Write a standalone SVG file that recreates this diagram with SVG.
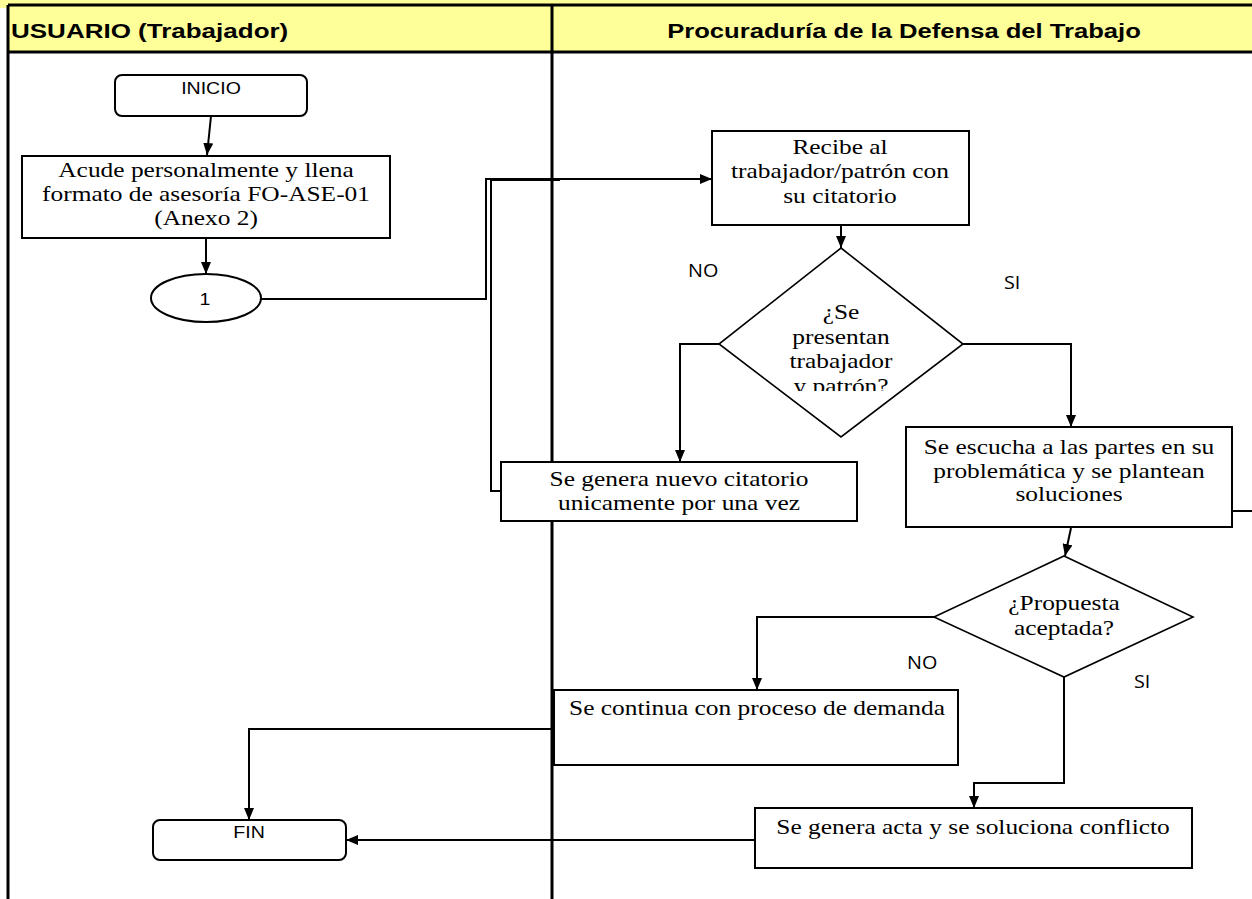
<svg xmlns="http://www.w3.org/2000/svg" width="1252" height="899" viewBox="0 0 1252 899">
<style>
.lane{stroke:#000;stroke-width:3;fill:none}
.box{fill:#fff;stroke:#000;stroke-width:2}
.dia{fill:#fff;stroke:#000;stroke-width:1.6}
.cn{fill:none;stroke:#000;stroke-width:2}
.t{font-family:"Liberation Serif","Times New Roman",serif;font-size:21px;fill:#000;text-anchor:middle}
.s{font-family:"Liberation Sans",Arial,sans-serif;font-size:17px;fill:#000;text-anchor:middle}
.h{font-family:"Liberation Sans",Arial,sans-serif;font-size:20px;font-weight:bold;fill:#000}
.l{font-family:"Open Sans","DejaVu Sans",sans-serif;font-size:18px;fill:#000}
</style>
<defs>
<marker id="ah" markerUnits="userSpaceOnUse" markerWidth="12" markerHeight="10" refX="12" refY="5" orient="auto">
<path d="M0,0 L12,5 L0,10 z" fill="#000"/>
</marker>
<clipPath id="clipd1"><rect x="700" y="290" width="290" height="101"/></clipPath>
</defs>
<rect x="0" y="0" width="1252" height="899" fill="#fff"/>
<g id="lanes">
<rect x="0" y="0" width="1252" height="8" fill="#ffff99"/>
<rect x="8" y="5" width="1244" height="47" fill="#ffff99"/>
<line class="lane" x1="8" y1="5" x2="1252" y2="5"/>
<line class="lane" x1="8" y1="52" x2="1252" y2="52"/>
<line class="lane" x1="8" y1="5" x2="8" y2="899"/>
<line class="lane" x1="552" y1="5" x2="552" y2="899"/>
<text class="h" x="0" y="38" transform="matrix(1.3 0 0 1 11 0)">USUARIO (Trabajador)</text>
<text class="h" x="0" y="38" text-anchor="middle" transform="matrix(1.28 0 0 1 904 0)">Procuraduría de la Defensa del Trabajo</text>
</g>
<g id="connectors">
<path class="cn" d="M211,116 L207,155" marker-end="url(#ah)"/>
<path class="cn" d="M206,238 V274" marker-end="url(#ah)"/>
<path class="cn" d="M261,299 H486 V179 H712" marker-end="url(#ah)"/>
<path class="cn" d="M502,491 H491 V180 H560"/>
<path class="cn" d="M841,225 V248" marker-end="url(#ah)"/>
<path class="cn" d="M720,344 H680 V462" marker-end="url(#ah)"/>
<path class="cn" d="M963,344 H1071 V427" marker-end="url(#ah)"/>
<path class="cn" d="M1232,511 H1252"/>
<path class="cn" d="M1071,528 L1065,556" marker-end="url(#ah)"/>
<path class="cn" d="M934,617 H757 V690" marker-end="url(#ah)"/>
<path class="cn" d="M1064,677 V783 H974 V808" marker-end="url(#ah)"/>
<path class="cn" d="M555,729 H249 V820" marker-end="url(#ah)"/>
<path class="cn" d="M755,840 H346" marker-end="url(#ah)"/>
<text class="l" x="0" y="277" transform="matrix(1.1 0 0 1 688 0)">NO</text>
<text class="l" x="0" y="289" transform="matrix(1.1 0 0 1 1004 0)">SI</text>
<text class="l" x="0" y="669" transform="matrix(1.1 0 0 1 907 0)">NO</text>
<text class="l" x="0" y="688" transform="matrix(1.1 0 0 1 1134 0)">SI</text>
</g>
<g id="inicio">
<rect class="box" x="115" y="75" width="192" height="41" rx="7"/>
<text class="s" x="0" y="94" transform="matrix(1.15 0 0 1 211 0)">INICIO</text>
</g>
<g id="acude">
<rect class="box" x="22" y="156" width="368" height="82"/>
<text class="t" x="0" y="177" transform="matrix(1.21 0 0 1 206 0)">Acude personalmente y llena</text>
<text class="t" x="0" y="201" transform="matrix(1.21 0 0 1 206 0)">formato de asesoría FO-ASE-01</text>
<text class="t" x="0" y="225" transform="matrix(1.21 0 0 1 206 0)">(Anexo 2)</text>
</g>
<g id="conector1">
<ellipse class="box" cx="206" cy="298" rx="55" ry="24"/>
<text class="s" x="0" y="305" font-size="18" transform="matrix(1.15 0 0 1 205 0)">1</text>
</g>
<g id="recibe">
<rect class="box" x="712" y="131" width="257" height="94"/>
<text class="t" x="0" y="154" transform="matrix(1.21 0 0 1 840 0)">Recibe al</text>
<text class="t" x="0" y="178" transform="matrix(1.21 0 0 1 840 0)">trabajador/patrón con</text>
<text class="t" x="0" y="203" transform="matrix(1.21 0 0 1 840 0)">su citatorio</text>
</g>
<g id="decision1">
<polygon class="dia" points="841,248 963,344 841,437 719,344"/>
<g clip-path="url(#clipd1)">
<text class="t" x="0" y="319" transform="matrix(1.21 0 0 1 841 0)">¿Se</text>
<text class="t" x="0" y="344" transform="matrix(1.21 0 0 1 841 0)">presentan</text>
<text class="t" x="0" y="368" transform="matrix(1.21 0 0 1 841 0)">trabajador</text>
<text class="t" x="0" y="393" transform="matrix(1.21 0 0 1 841 0)">y patrón?</text>
</g>
</g>
<g id="nuevo-citatorio">
<rect class="box" x="501" y="462" width="356" height="59"/>
<text class="t" x="0" y="486" transform="matrix(1.21 0 0 1 679 0)">Se genera nuevo citatorio</text>
<text class="t" x="0" y="510" transform="matrix(1.21 0 0 1 679 0)">unicamente por una vez</text>
</g>
<g id="escucha">
<rect class="box" x="906" y="427" width="326" height="100"/>
<text class="t" x="0" y="454" transform="matrix(1.21 0 0 1 1069 0)">Se escucha a las partes en su</text>
<text class="t" x="0" y="478" transform="matrix(1.21 0 0 1 1069 0)">problemática  y se plantean</text>
<text class="t" x="0" y="501" transform="matrix(1.21 0 0 1 1069 0)">soluciones</text>
</g>
<g id="decision2">
<polygon class="dia" points="1064,556 1193,617 1064,677 934,617"/>
<text class="t" x="0" y="610" transform="matrix(1.21 0 0 1 1064 0)">¿Propuesta</text>
<text class="t" x="0" y="635" transform="matrix(1.21 0 0 1 1064 0)">aceptada?</text>
</g>
<g id="demanda">
<rect class="box" x="554" y="690" width="404" height="75"/>
<text class="t" x="0" y="715" transform="matrix(1.21 0 0 1 757 0)">Se continua con proceso de demanda</text>
</g>
<g id="acta">
<rect class="box" x="755" y="808" width="437" height="60"/>
<text class="t" x="0" y="834" transform="matrix(1.21 0 0 1 973 0)">Se genera acta y se soluciona conflicto</text>
</g>
<g id="fin">
<rect class="box" x="153" y="820" width="193" height="40" rx="7"/>
<text class="s" x="0" y="838" transform="matrix(1.15 0 0 1 249 0)">FIN</text>
</g>
</svg>
